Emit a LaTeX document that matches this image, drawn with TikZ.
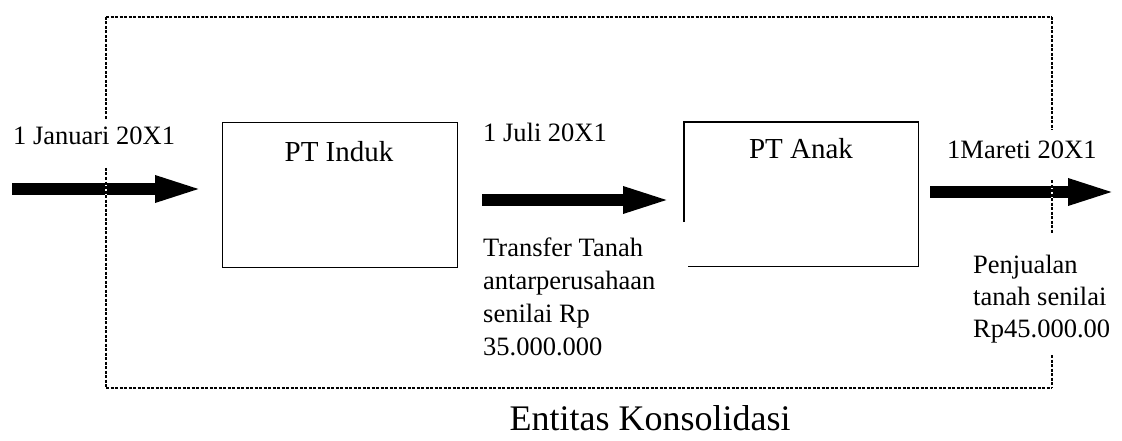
\documentclass[tikz,border=0pt]{standalone}
\usepackage{fontspec}
\setmainfont{Liberation Serif}
\usetikzlibrary{arrows.meta,calc}

\begin{document}
\begin{tikzpicture}[x=1pt,y=-1pt,
  lbl/.style={inner sep=0pt, font=\fontsize{26.5}{33}\selectfont},
  blocklbl/.style={lbl, align=left, anchor=north west},
  title/.style={inner sep=0pt, font=\fontsize{29}{33}\selectfont},
  entity/.style={draw, line width=1.3pt},
  flow/.style={line width=12.5pt, -{Triangle[length=52pt,width=23pt]}},
  frameunder/.style={white, line width=2pt},
  frameline/.style={black, line width=2pt, dash pattern=on 3pt off 1.5pt},
]
\useasboundingbox (0,0) rectangle (1122,441);

% flows
\coordinate (a1s) at (12,189);   \coordinate (a1e) at (207,189);
\coordinate (a2s) at (482,200);  \coordinate (a2e) at (675,200);
\coordinate (a3s) at (930,192);  \coordinate (a3e) at (1120,192);
\draw[flow] (a1s) -- (a1e);
\draw[flow] (a2s) -- (a2e);
\draw[flow] (a3s) -- (a3e);

% companies
\node[entity, minimum width=235, minimum height=145, anchor=north west] (induk) at (222,122) {};
\node[title, anchor=base] (indukl) at (339,161) {PT Induk};

\node[minimum width=234, minimum height=144, anchor=north west, inner sep=0pt] (anak) at (684,122) {};
\draw[entity] ($(anak.north west)+(0,100)$) -- (anak.north west) -- (anak.north east)
  -- (anak.south east) -- ($(anak.south west)+(4,0)$);
\node[title, anchor=base] (anakl) at (801,158) {PT Anak};

% consolidated entity boundary
\coordinate (fnw) at (106,17);  \coordinate (fne) at (1052,17);
\coordinate (fsw) at (106,388); \coordinate (fse) at (1052,388);
\foreach \st in {frameunder,frameline}{
  \draw[\st] (fnw) -- (fne);
  \draw[\st] (fsw) -- (fse);
  \draw[\st] (fnw) -- (106,120);
  \draw[\st] (106,168) -- (fsw);
  \draw[\st] (fne) -- (1052,130);
  \draw[\st] (1052,180) -- (1052,234);
  \draw[\st] (1052,355) -- (fse);
}

% dates and notes
\node[lbl, anchor=base west] (d1) at (13,145) {1 Januari 20X1};
\node[lbl, anchor=base west] (d2) at (483,142) {1 Juli 20X1};
\node[lbl, anchor=base west] (d3) at (947,158) {1Mareti 20X1};
\node[blocklbl] (n2) at (483,238) {Transfer Tanah\\antarperusahaan\\senilai Rp\\35.000.000};
\node[blocklbl, font=\fontsize{26.5}{32}\selectfont] (n3) at (973,255) {Penjualan\\tanah senilai\\Rp45.000.00};

\node[inner sep=0pt, font=\fontsize{36}{40}\selectfont, anchor=base] (ent) at (650,430) {Entitas Konsolidasi};
\end{tikzpicture}
\end{document}
